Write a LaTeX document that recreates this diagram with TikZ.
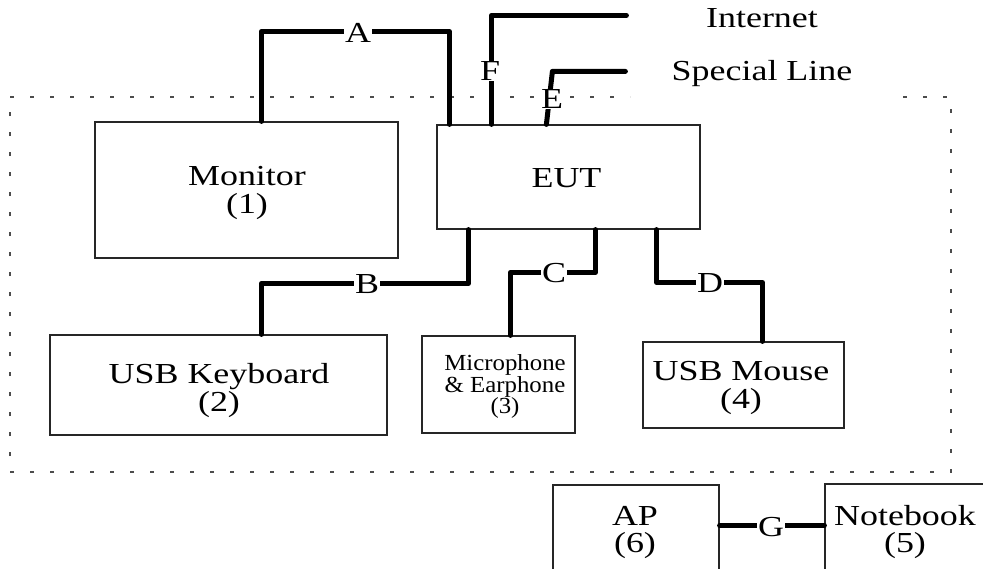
\documentclass[tikz,border=0pt]{standalone}
\usepackage{fontspec}
\setmainfont{Liberation Serif}
\newfontfamily\dfont[FakeStretch=1.24]{Liberation Serif}
\newfontfamily\mfont[FakeStretch=1.08]{Liberation Serif}
\usetikzlibrary{calc}
\begin{document}
\begin{tikzpicture}[x=1pt,y=-1pt,
  box/.style={draw=black!85, line width=1.2pt, inner sep=0pt, rectangle},
  conn/.style={line width=5pt, line join=round, line cap=round},
  txt/.style={font=\dfont\fontsize{29}{28}\selectfont, inner sep=0pt, anchor=base},
  smalltxt/.style={font=\mfont\fontsize{23}{22}\selectfont, inner sep=0pt, anchor=base},
  lab/.style={font=\dfont\fontsize{29}{28}\selectfont, fill=white, inner sep=1pt},
  border/.style={draw=black!70, line width=1.3pt, dash pattern=on 4pt off 16pt}]
\clip (0,0) rectangle (983,568);
\fill[white] (0,0) rectangle (983,568);

% dotted enclosure
\draw[border] (10,97) -- (630,97);
\draw[border] (903,97) -- (951,97) -- (951,472) -- (10,472) -- (10,97);

% boxes
\node[box, minimum width=303pt, minimum height=136pt] (mon) at (246.5,190) {};
\node[box, minimum width=263pt, minimum height=104pt] (eut) at (568.5,177) {};
\node[box, minimum width=337pt, minimum height=100pt] (kbd) at (218.5,385) {};
\node[box, minimum width=153pt, minimum height=97pt] (mic) at (498.5,384.5) {};
\node[box, minimum width=201pt, minimum height=86pt] (mouse) at (743.5,385) {};
\node[box, minimum width=166pt, minimum height=135pt] (ap) at (636,552.5) {};
\node[box, minimum width=225pt, minimum height=136pt] (nb) at (937.5,552) {};

% connectors
\draw[conn] ($(mon.north west)+(167,0)$) |- ($(eut.north west)+(13,-93)$) -- ($(eut.north west)+(13,0)$);
\draw[conn] ($(eut.north west)+(55,0)$) -- ++(0,-109) -- ++(135,0) coordinate (fend);
\draw[conn] ($(eut.north west)+(110,0)$) -- ++(6,-53) -- ++(73,0) coordinate (eend);
\draw[conn] ($(eut.south west)+(32,0)$) |- ($(kbd.north west)+(212,-51)$) -- ($(kbd.north west)+(212,0)$);
\draw[conn] ($(eut.south west)+(159,0)$) |- ($(mic.north west)+(89,-63)$) -- ($(mic.north west)+(89,0)$);
\draw[conn] ($(eut.south west)+(220,0)$) |- ($(mouse.north west)+(120,-59)$) -- ($(mouse.north west)+(120,0)$);
\draw[conn] ($(ap.north east)+(0,41)$) -- ($(nb.north west)+(0,42)$);

% connector labels
\node[lab] (la) at (358,33) {A};
\node[lab] (lf) at (490,71) {F};
\node[lab] (le) at (552,99) {E};
\node[lab] (lb) at (367,284) {B};
\node[lab] (lc) at (554,273) {C};
\node[lab] (ld) at (710,283) {D};
\node[lab] (lg) at (771,527) {G};

% texts
\node[txt] (t1a) at (247,185) {Monitor};
\node[txt] (t1b) at (247,213) {(1)};
\node[txt] (teut) at (566.5,187) {EUT};
\node[txt] (t2a) at (219,383) {USB Keyboard};
\node[txt] (t2b) at (219,411) {(2)};
\node[smalltxt] (t3a) at (505,370) {Microphone};
\node[smalltxt] (t3b) at (505,392) {\& Earphone};
\node[smalltxt] (t3c) at (505,413) {(3)};
\node[txt] (t4a) at (741,380) {USB Mouse};
\node[txt] (t4b) at (741,408) {(4)};
\node[txt] (t6a) at (635,525) {AP};
\node[txt] (t6b) at (635,552) {(6)};
\node[txt] (t5a) at (905,525) {Notebook};
\node[txt] (t5b) at (905,552) {(5)};
\node[txt] (tin) at (762,27) {Internet};
\node[txt] (tsl) at (762,80) {Special Line};
\end{tikzpicture}
\end{document}
